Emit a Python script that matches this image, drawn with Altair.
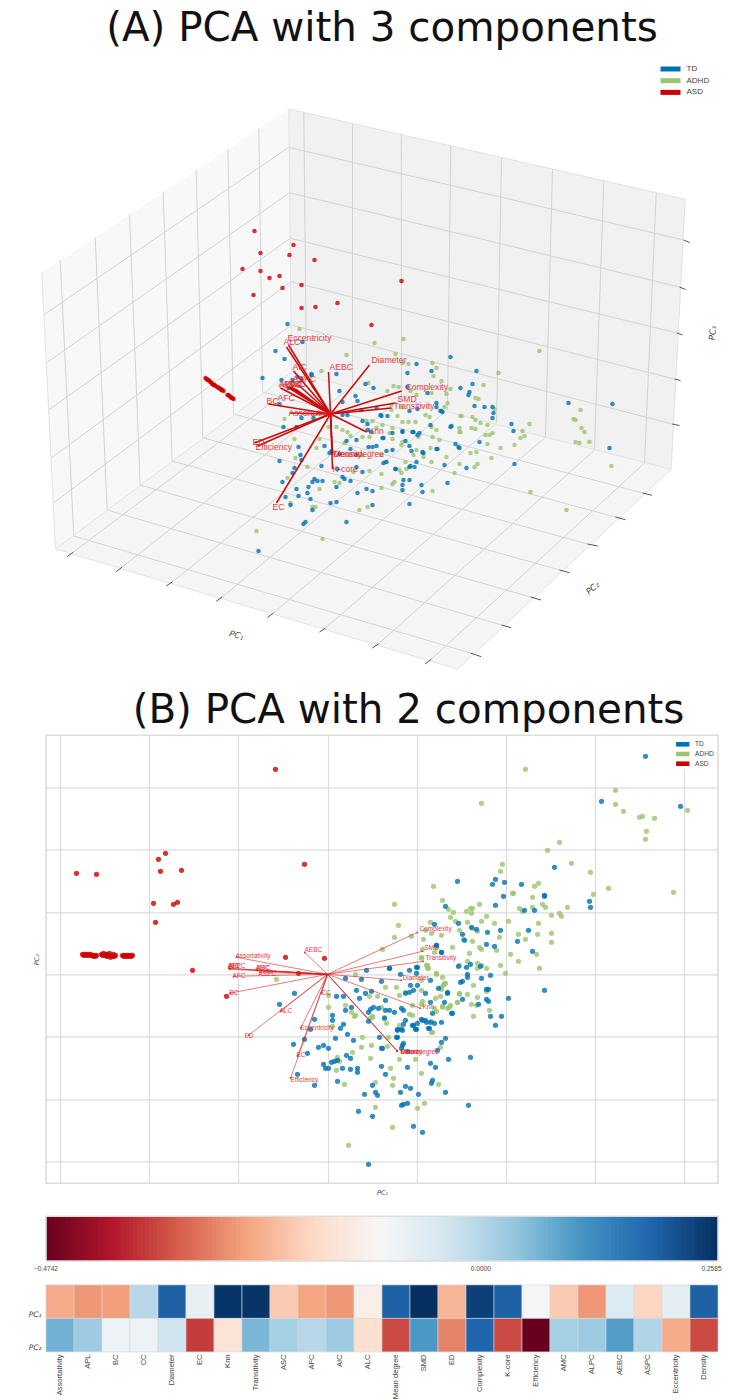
import altair as alt
import numpy as np
import pandas as pd

GROUPS = ["TD", "ADHD", "ASD"]
COLORS = ["#0072B2", "#9bc46e", "#cc0000"]
FEATURES = ["Assortativity", "APL", "BC", "CC", "Diameter", "EC", "Knn", "Transitivity", "ASC", "AFC", "AIC", "ALC",
            "Mean degree", "SMD", "ED", "Complexity", "K-core", "Efficiency", "AMC", "ALPC", "AEBC", "ASPC",
            "Eccentricity", "Density"]
LOAD_PC1 = [-.2471, -.2690, -.2617, -.0053, .1926, -.0785, .2512, .2512, -.2031, -.2544, -.2690, -.1298,
            .1926, .2585, -.2324, .2365, .1926, -.1005, -.2031, -.2690, -.0566, -.1884, -.0712, .1926]
LOAD_PC2 = [.0680, .0240, -.0859, -.0859, -.0346, -.3643, -.1591, .0607, .0167, -.0053, .0240, -.1665,
            -.3496, .1046, -.2910, .1852, -.3496, -.4742, .0167, .0240, .0973, .0021, -.2471, -.3496]
VMIN, VMAX = -0.4742, 0.2585
RDBU = ["#67001f", "#b2182b", "#d6604d", "#f4a582", "#fddbc7", "#f7f7f7", "#d1e5f0", "#92c5de", "#4393c3", "#2166ac", "#053061"]
BAR_LABELS = ["\u22120.4742", "0.0000", "0.2585"]
BAR_VALUES = [VMIN, 0.0, VMAX - 0.0071]

# ---- panel B: scores and loadings
B_TD = [(318,218),(274,173),(353,168),(227,107),(130,93),(168,95),(165,90),(177,92),(194,90),(176,78),(217,79),(217,78),
(262,73),(263,67),(168,69),(118,68),(207,64),(197,64),(107,50),(131,51),(144,47),(149,45),(135,40),(160,42),(173,44),
(201,44),(137,34),(190,33),(159,30),(167,28),(109,29),(114,22),(205,23),(143,10),(131,8),(139,7),(153,8),(90,7),(82,4),(62,6),
(140,0),(140,-3),(154,-4),(163,-1),(217,-16),(181,-24),(135,-7),(133,-8),(159,-15),(161,-15),(159,-25),(161,-27),(135,-25),
(151,-30),(125,-39),(163,-42),(174,-42),(168,-51),(118,-64),(114,-68),(110,-76),(143,-83),(121,-85),(103,-89),(108,-93),
(80,-93),(58,-100),(105,-106),(104,-109),(118,-118),(91,-120),(83,-114),(78,-112),(73,-118),(141,-131),(80,-129),(76,-130),
(74,-131),(86,-152),(95,-158),(54,-92),(120,-19),(111,-14),(114,-48),(107,-49),(102,-54),(95,-46),(99,-48),(90,-49),(86,-51),
(88,-55),(76,-50),(75,-56),(70,-56),(70,-63),(76,-69),(75,-71),(74,-74),(55,-74),(80,-77),
(-33,-19),(-48,-30),(-13,-45),(-23,-65),(-17,-55),(-34,-70),(-20,-79),(-30,-100),(-13,-111),(-9,-73),(-4,-71),(1,-74),(8,-64),
(20,-60),(26,-66),(13,-54),(16,-50),(5,-46),(5,-41),(9,-22),(16,-22),(29,-16),(34,-5),(18,-4),(38,-19),(44,-17),(32,-24),(39,4),
(54,-7),(62,6),(73,0),(89,1),(89,7),(103,-6),(83,-11),(90,-11),(82,-18),(78,-19),(98,-19),(114,22),(109,29),(86,-16),(120,-18),
(117,-28),(103,-28),(58,-26),(46,-33),(43,-35),(41,-38),(51,-34),(58,-36),(57,-44),(62,-36),(67,-38),(74,-34),(76,-36),(124,-39),
(105,-39),(103,-48),(98,-46),(94,-45),(85,-51),(78,-46),(41,-47),(74,-55),(70,-55),(89,-55),(101,-54),(52,-63),(69,-63),(54,-74),
(19,-81),(23,-84),(-4,-90),(-2,-94),(1,-94),(4,-88),(7,-87),(10,-86),(15,-94),(23,-95),(30,-94),(30,-98),(10,-107),(45,-111),
(48,-118),(50,-121),(37,-120),(31,-137),(45,-142),(41,-190),(18,-36),(24,-33)]
B_ADHD = [(198,205),(288,184),(154,171),(288,170),(296,163),(360,164),(315,158),(312,157),(327,156),(319,143),(318,135),(232,132),
(220,124),(244,111),(175,110),(263,102),(173,103),(211,91),(207,88),(106,88),(281,86),(346,82),(266,80),(185,81),(186,81),(205,77),
(115,74),(67,70),(152,70),(145,66),(143,66),(121,65),(215,70),(218,67),(205,67),(240,67),(192,66),(195,63),(139,63),(144,61),(126,62),
(232,61),(234,58),(224,59),(159,58),(123,57),(154,53),(181,53),(128,53),(140,52),(103,52),(211,51),(167,51),(71,49),(145,46),(150,43),
(132,44),(98,44),(191,40),(210,40),(224,41),(114,39),(104,41),(84,38),(67,37),(96,35),(172,37),(136,35),(145,33),(198,35),(224,32),
(109,27),(125,27),(152,27),(95,25),(154,25),(55,25),(169,24),(107,22),(142,21),(183,20),(209,20),(94,16),(140,13),(191,13),(150,11),
(154,9),(100,9),(173,9),(132,9),(101,6),(150,6),(159,6),(212,6),
(-51,-5),(28,0),(1,-21),(1,-33),(18,-31),(24,-38),(27,-42),(5,-52),(35,-63),(44,-71),(34,-73),(25,-78),(10,-83),(12,-87),(9,-96),
(17,-110),(43,-84),(63,-94),(48,-108),(65,-111),(48,-133),(66,-104),(94,-99),(111,-110),(88,-85),(72,-85),(113,-73),(105,-58),(61,-63),
(72,-51),(59,-49),(43,-44),(45,-42),(57,-43),(82,-40),(85,-41),(54,-33),(72,-21),(78,-18),(42,-22),(58,-13),(69,-13),(94,-16),(99,9),
(100,6),(109,0),(116,-11),(114,-13),(94,17),(90,-134),(97,-129),(95,-27),(94,-30),(107,-34),(115,-33),(130,-28),(122,-33),(85,-31),
(104,-58),(94,-6),(117,-9),(132,-19),(178,1),(65,-153),(60,-72),(146,-42),(162,-36),(149,-31),(150,-23),(144,-30),(140,-20),(132,-20),
(130,-28),(159,-17),(146,-11),(115,-3),(109,1),(118,-9),(114,-15),(123,-31),(120,-34),(109,-37),(115,-32),(113,-22),(108,-24),(104,-47),
(21,-171),(50,-22),(45,-43),(28,-41)]
B_ASD = [(-52,205),(-23,110),(-162,121),(-169,115),(-167,103),(-146,104),(-251,101),(-231,100),(-174,71),(-154,70),(-150,72),(-172,52),
(-42,17),(-3,16),(-135,4),(-29,1),(-101,-22),
(-245,20),(-244,19),(-243,20),(-242,19),(-241,20),(-240,19),(-239,20),(-238,19),(-237,20),(-236,19),(-235,19),(-234,18),(-233,19),(-232,18),(-231,19),
(-226,20),(-225,19),(-224,21),(-223,19),(-222,20),(-221,18),(-220,20),(-219,18),(-218,21),(-217,17),(-216,19),(-215,18),(-214,20),(-213,18),(-212,19),
(-205,19),(-204,18),(-203,19),(-202,18),(-201,19),(-200,18),(-199,19),(-198,18),(-197,19),(-196,18),(-195,19)]
B_ARROW_NAMES = ["Assortativity","AEBC","SMD","Complexity","Transitivity","Diameter","Knn","Density","K-core","Mean degree","ALC","ED",
                 "BC","CC","Eccentricity","EC","Efficiency","AFC","APL","AIC","ALPC","AMC","ASC","ASPC"]
B_ARROW_PC1 = [-91,-23,95,90,96,74,93,70,70,70,-47,-79,-98,-6,-27,-30,-37,-94,-98,-99,-98,-71,-71,-68]
B_ARROW_PC2 = [17,22,23,42,13,-6,-34,-77,-77,-77,-37,-61,-19,-19,-54,-82,-104,-2,6,6,5,4,4,2]
B_LABEL_PC1 = [-92,-23,97,92,98,75,95,73,73,73,-48,-83,-98,-6,-27,-31,-37,-95,-100,-99,-99,-72,-71,-69]
B_LABEL_PC2 = [18,24,26,45,16,-4,-33,-78,-78,-78,-37,-62,-19,-19,-54,-81,-106,-2,8,8,8,6,6,0]
B_GRID_PC1 = [-267.6,-178.4,-89.2,0,89.2,178.4,267.6,356.8]
B_GRID_PC2 = [187.2,124.8,62.4,0,-62.4,-124.8,-187.2]

# ---- panel A: scores and loadings as projected from the 3-D view (image-plane units)
A_TD = [(288,324),(303,342),(276,351),(285,359),(337,374),(263,378),(282,380),(312,375),(293,380),(302,379),(366,384),(374,388),
(451,357),(417,364),(408,373),(432,371),(477,371),(408,387),(473,384),(461,388),(428,393),(470,392),(469,395),
(340,391),(356,396),(358,401),(343,402),(437,403),(442,411),(418,409),(410,411),(377,408),(362,410),(348,415),(343,415),(388,416),(381,415),
(451,427),(456,444),(459,447),(467,468),(445,465),(437,449),(423,452),(410,446),(412,451),(420,433),(413,432),(403,431),(368,424),(363,421),
(368,430),(372,432),(384,438),(377,446),(373,447),(369,447),(357,440),(347,441),(393,450),(387,451),(351,449),(330,453),(340,454),(357,455),
(387,462),(396,469),(410,467),(415,467),(410,480),(422,485),(403,485),(403,490),(423,492),(448,483),(410,504),(373,505),(367,489),(373,491),
(358,493),(351,481),(345,479),(343,477),(337,487),(338,469),(363,472),(357,467),(331,503),(337,502),(347,522),(306,522),(304,524),(313,510),
(311,499),(308,493),(297,489),(291,505),(299,496),(286,497),(283,482),(295,468),(293,473),(322,466),(315,479),(313,482),(318,481),(323,481),
(309,487),(280,461),(299,447),(301,455),(302,460),(284,427),(297,427),(325,446),(332,451),(302,418),(314,418),(280,404),(289,388),(312,374),
(298,377),(259,551),
(475,406),(485,407),(493,407),(494,413),(493,418),(512,424),(514,431),(569,403),(613,404),(610,448),(515,464),(480,442),(460,448),(438,449),
(452,426),(431,425),(424,453),(417,462),(411,466),(396,469),(404,480),(384,463),(406,441),(393,433),(383,438),(403,432),(414,432),(418,435),
(382,416),(437,407),(441,411),(443,412)]
A_ADHD = [(300,329),(375,343),(347,355),(322,371),(369,383),(404,339),(540,351),(396,354),(403,363),(409,364),(433,363),(437,368),(434,376),
(499,373),(442,381),(484,385),(394,386),(399,387),(451,389),(388,391),(411,391),(432,393),(447,394),(417,395),(476,398),(479,399),
(448,403),(445,407),(402,407),(392,410),(392,405),(462,416),(430,417),(426,415),(416,422),(403,422),(409,422),(432,427),(437,430),(460,428),
(461,432),(433,437),(419,437),(447,457),(455,473),(432,462),(423,453),(424,457),(400,470),(402,473),(382,474),(395,482),(393,484),(433,491),
(382,455),(386,462),(406,462),(431,448),(403,442),(402,445),(390,433),(393,428),(377,428),(383,425),(373,421),(367,421),(363,437),(370,437),
(348,432),(343,430),(337,427),(329,427),(345,443),(351,436),(320,439),(317,448),(295,439),(285,419),(308,467),(296,458),(335,482),(340,483),
(370,471),(354,472),(320,489),(363,455),(313,507),(316,507),(291,503),(360,510),(368,507),(382,488),(288,478),(257,531),(323,539),
(581,410),(574,419),(576,420),(582,428),(585,432),(590,442),(576,442),(580,443),(612,466),(530,424),(523,431),(525,436),(521,438),(515,445),
(501,448),(488,444),(492,458),(493,433),(490,435),(486,435),(488,425),(495,409),(473,417),(476,420),(481,423),(472,428),(476,429),(461,416),
(460,432),(417,450),(471,453),(477,452),(460,464),(478,464),(475,467),(531,492),(567,510),(398,416),(393,439),(440,440),(414,455),(407,469)]
A_ASD = [(255,231),(294,245),(261,253),(290,255),(315,260),(243,269),(261,271),(270,278),(280,276),(302,285),(283,288),(254,295),(302,308),
(316,307),(338,303),(372,325),(402,281),
(206,378),(207,379),(208,380),(209,380),(210,381),(211,382),(212,383),(213,384),(214,385),(215,385),(216,386),
(218,387),(219,388),(220,388),(221,389),(222,390),(223,390),(224,391),
(228,395),(229,395),(230,396),(231,397),(232,398),(233,398),(234,399)]
A_ORIGIN = (331, 414)
A_ARROW_NAMES = ["Eccentricity","ALC","AIC","ASPC","APL","ASC","AMC","ALPC","CC","AFC","BC","Assortativity","ED","Efficiency","EC","K-core",
                 "Density","Mean degree","Knn","Transitivity","SMD","Complexity","Diameter","AEBC"]
A_TIP_X = [289,287,294,299,290,292,294,288,296,281,269,290,255,258,277,333,333,333,367,392,396,402,370,329]
A_TIP_Y = [345,347,371,385,387,387,388,387,389,388,404,413,443,446,503,469,455,455,432,408,403,391,365,372]
A_LAB_X = [288,284,293,293,279,283,287,280,291,278,267,289,253,256,273,333,334,334,369,394,398,406,372,330]
A_LAB_Y = [338,342,367,379,384,384,384,385,384,398,401,413,442,447,507,469,454,454,431,406,399,387,360,367]

# ---- 3-D box of panel A
L_V_TOP = [(60.7,260),(95.7,237.3),(130,214.3),(163.7,191.7),(196.7,170),(228.3,149),(259.3,128.3)]
L_V_BOT = [(74.3,536),(107.7,510),(140.7,485),(172.7,461),(203.3,437.7),(234,414),(263,392)]
R_V_TOP = [(304.3,111.7),(353,123.3),(401.7,133.3),(451.3,145.7),(502,157.7),(553,169.3),(604.3,181),(656.7,193.3)]
R_V_BOT = [(307,376),(353,386),(402,398),(448,410),(497,423),(546,437),(595,450),(645,463)]
H_LEFT = [(44,315),(46.7,363),(49,410),(51.7,458),(54,503)]
H_MID = [(289.3,147.3),(290.3,192.7),(290.7,238.3),(291.7,281.7),(291.7,325)]
H_RIGHT = [(684,240),(680,287),(677.5,333),(675,379),(672.5,424)]
F1_A = [(74,552),(122.7,567),(172.7,582),(222.7,597),(274,613),(326,628),(379,644),(432,659)]
F2_A = [(471,653),(502,625),(531,597),(560,570),(588,544),(616,517),(643,493)]
EDGE_A = [(56,549),(458.3,669.3),(56,549),(289.3,109),(56,549),(292,372),(292,372),(685.7,199.3)]
EDGE_B = [(458.3,669.3),(671.7,469.3),(42.3,272.7),(685.7,199.3),(292,372),(671.7,469.3),(289.3,109),(671.7,469.3)]
T1_A = [(67.7,556.7),(116.7,571.7),(166.7,586),(216.7,601.3),(268,617.3),(320,632),(372.7,648),(425.7,664)]
T2_B = [(481.7,656.7),(511.7,627.7),(541.7,600),(570,572.7),(598.3,546),(626,519.7),(652.7,495.3)]
T3_B = [(690,242.5),(686,289.5),(683,335),(681,380.5),(680,425.5)]


def segs(a, b):
    return pd.DataFrame({"x": [p[0] for p in a], "y": [p[1] for p in a],
                         "x2": [p[0] for p in b], "y2": [p[1] for p in b]})


def scores(td, adhd, asd):
    rows = [("ADHD", *p) for p in adhd] + [("TD", *p) for p in td] + [("ASD", *p) for p in asd]
    return pd.DataFrame(rows, columns=["group", "x", "y"])


LEFT = 46.5
WIDTH = 672
S = 23.3
FS = "Liberation Sans"

# ================= Panel A
HA = 703.7
sxA = alt.Scale(domain=[LEFT, LEFT + WIDTH], nice=False, zero=False)
syA = alt.Scale(domain=[8 + HA, 8], nice=False, zero=False)
xA = alt.X("x:Q", scale=sxA, axis=None)
yA = alt.Y("y:Q", scale=syA, axis=None)


def pane(xs, top, bot, color):
    d = pd.DataFrame({"x": xs, "y": top, "y2": bot})
    return alt.Chart(d).mark_area(color=color, orient="vertical", interpolate="linear").encode(
        x=xA, y=yA, y2="y2:Q")


def rules(df, color, w):
    return alt.Chart(df).mark_rule(color=color, strokeWidth=w).encode(x=xA, y=yA, x2="x2:Q", y2="y2:Q")


panes = [
    pane([42.3, 56, 289.3, 292], [272.7, 263.6, 109, 372], [272.7, 549, 374, 372], "#f8f8f8"),
    pane([289.3, 292, 671.7, 685.7], [109, 109.6, 196.1, 199.3], [109, 372, 469.3, 199.3], "#f1f1f1"),
    pane([56, 292, 458.3, 671.7], [549, 372, 414.4, 469.3], [549, 619.4, 669.3, 469.3], "#f5f5f5"),
]
grid_df = pd.concat([segs(L_V_TOP, L_V_BOT), segs(R_V_TOP, R_V_BOT), segs(H_LEFT, H_MID), segs(H_MID, H_RIGHT),
                     segs(F1_A, R_V_BOT), segs(L_V_BOT, F2_A)])
ticks_df = pd.concat([segs(F1_A, T1_A), segs(F2_A, T2_B), segs(H_RIGHT, T3_B)])

a_pts = alt.Chart(scores(A_TD, A_ADHD, A_ASD)).mark_circle(size=21, opacity=0.8).encode(
    x=xA, y=yA,
    color=alt.Color("group:N", scale=alt.Scale(domain=GROUPS, range=COLORS), legend=alt.Legend(
        title=None, orient="none", legendX=615.5, legendY=52, symbolType="M-2,-0.5H2V0.5H-2Z", symbolSize=100,
        symbolOpacity=1, labelFont=FS, labelFontSize=8, labelColor="#444444", rowPadding=1.7, labelOffset=10,
        fillColor="#ffffff", padding=3)))
a_arr = pd.DataFrame({"n": A_ARROW_NAMES, "x": A_ORIGIN[0], "y": A_ORIGIN[1], "x2": A_TIP_X, "y2": A_TIP_Y})
a_lab = pd.DataFrame({"n": A_ARROW_NAMES, "x": A_LAB_X, "y": A_LAB_Y})
a_lines = rules(a_arr, "#cc0a0a", 1.5)
a_text = alt.Chart(a_lab).mark_text(font=FS, fontSize=8.6, color="#e3282c", align="left", baseline="middle",
                                    opacity=0.9).encode(x=xA, y=yA, text="n:N")


def txt(x, y, s, **kw):
    d = pd.DataFrame({"x": [x], "y": [y], "t": [s]})
    return alt.Chart(d).mark_text(**kw).encode(x=xA, y=yA, text="t:N")


titles = [
    txt(382.5, 41, "(A) PCA with 3 components", font="DejaVu Sans", fontSize=40.4, color="#111111", align="center",
        baseline="alphabetic"),
    txt(409, 723, "(B) PCA with 2 components", font="DejaVu Sans", fontSize=40.4, color="#111111", align="center",
        baseline="alphabetic"),
    txt(237, 635, "PC\u2081", font="DejaVu Sans", fontStyle="italic", fontSize=8.5, color="#444444", angle=15,
        align="center", baseline="middle"),
    txt(593, 588, "PC\u2082", font="DejaVu Sans", fontStyle="italic", fontSize=8.5, color="#444444", angle=320,
        align="center", baseline="middle"),
    txt(713, 333, "PC\u2083", font="DejaVu Sans", fontStyle="italic", fontSize=8.5, color="#444444", angle=275,
        align="center", baseline="middle"),
]
panel_a = alt.layer(*panes, rules(grid_df, "#d3d3d3", 1), rules(segs(EDGE_A, EDGE_B), "#e2e2e2", 1),
                    rules(ticks_df, "#555555", 1), a_pts, a_lines, a_text, *titles).properties(width=WIDTH, height=HA)

# ================= Panel B
HB = 448
sxB = alt.Scale(domain=[-281.5, 390.5], nice=False, zero=False)
syB = alt.Scale(domain=[-209, 239], nice=False, zero=False)
xB = alt.X("x:Q", scale=sxB,
           axis=alt.Axis(values=B_GRID_PC1, labels=False, ticks=False, domain=False, grid=True, gridColor="#dcdcdc",
                         gridWidth=1.2, title="PC\u2081", titleFont="DejaVu Sans", titleFontStyle="italic",
                         titleFontWeight="normal", titleFontSize=6.5, titleColor="#444444", titlePadding=6))
yB = alt.Y("y:Q", scale=syB,
           axis=alt.Axis(values=B_GRID_PC2, labels=False, ticks=False, domain=False, grid=True, gridColor="#dcdcdc",
                         gridWidth=1.2, title="PC\u2082", titleFont="DejaVu Sans", titleFontStyle="italic",
                         titleFontWeight="normal", titleFontSize=6.5, titleColor="#444444", titlePadding=7))
b_pts = alt.Chart(scores(B_TD, B_ADHD, B_ASD)).mark_circle(size=27, opacity=0.8).encode(
    x=xB, y=yB,
    color=alt.Color("group:N", scale=alt.Scale(domain=GROUPS, range=COLORS), legend=alt.Legend(
        title=None, orient="none", legendX=629.75, legendY=2, symbolType="M-1.565,-0.54H1.565V0.54H-1.565Z",
        symbolSize=72, symbolOpacity=1, labelFont=FS, labelFontSize=6.6, labelColor="#444444", rowPadding=0.7,
        labelOffset=7.25, fillColor="#ffffff", padding=2)))
b_arr = pd.DataFrame({"x": 0, "y": 0, "x2": B_ARROW_PC1, "y2": B_ARROW_PC2})
b_tip = pd.DataFrame({"x": B_ARROW_PC1, "y": B_ARROW_PC2})
b_tip["ang"] = (90 - np.degrees(np.arctan2(b_tip.y, b_tip.x))) % 360
b_lab = pd.DataFrame({"n": B_ARROW_NAMES, "x": B_LABEL_PC1, "y": B_LABEL_PC2})
b_lines = alt.Chart(b_arr).mark_rule(color="#d62020", strokeWidth=0.7, opacity=0.85).encode(
    x=xB, y=yB, x2="x2:Q", y2="y2:Q")
b_heads = alt.Chart(b_tip).mark_point(shape="triangle-up", filled=True, size=5, color="#d62020", opacity=1).encode(
    x=xB, y=yB, angle=alt.Angle("ang:Q", scale=None))
b_text = alt.Chart(b_lab).mark_text(font=FS, fontSize=6.5, color="#e3282c", align="left", baseline="middle",
                                    opacity=0.9).encode(x=xB, y=yB, text="n:N")
panel_b = alt.layer(b_pts, b_lines, b_heads, b_text).properties(
    width=WIDTH, height=HB, view=alt.ViewBackground(stroke="#dddddd", strokeWidth=1.6))

# ================= Colour bar
HC = 54.4
TOPC = 9.7
stops = [VMIN + (VMAX - VMIN) * i / 10 for i in range(11)]
colour_scale = alt.Scale(domain=stops, range=RDBU, interpolate="rgb")
grad = np.linspace(VMIN, VMAX, 171)
cb_df = pd.DataFrame({"a": grad[:-1], "b": np.minimum(grad[1:] + 0.002, VMAX), "v": (grad[:-1] + grad[1:]) / 2})
xC = alt.X("a:Q", scale=alt.Scale(domain=[VMIN, VMAX], nice=False, zero=False), axis=None)
cb_rect = alt.Chart(cb_df).mark_rect().encode(
    x=xC, x2="b:Q", y=alt.value(TOPC), y2=alt.value(HC),
    color=alt.Color("v:Q", scale=colour_scale, legend=None))
cb_frame = alt.Chart(pd.DataFrame({"a": [VMIN], "b": [VMAX]})).mark_rect(
    filled=False, stroke="#dddddd", strokeWidth=1.6).encode(x=xC, x2="b:Q", y=alt.value(TOPC), y2=alt.value(HC))
cb_text = alt.Chart(pd.DataFrame({"a": BAR_VALUES, "t": BAR_LABELS})).mark_text(
    font=FS, fontSize=6.6, color="#444444", align="center", baseline="middle").encode(
    x=xC, y=alt.value(HC + 7.5), text="t:N")
panel_c = alt.layer(cb_rect, cb_frame, cb_text).properties(width=WIDTH, height=HC)

# ================= Heatmap of loadings
heat_df = pd.DataFrame({"feature": FEATURES * 2, "pc": ["PC\u2081"] * 24 + ["PC\u2082"] * 24,
                        "v": LOAD_PC1 + LOAD_PC2})
panel_d = alt.Chart(heat_df).mark_rect(stroke="#d6d6d6", strokeWidth=0.6).encode(
    x=alt.X("feature:N", sort=FEATURES, scale=alt.Scale(paddingInner=0, paddingOuter=0),
            axis=alt.Axis(title=None, ticks=False, domain=False, labelAngle=-90, labelFont=FS, labelFontSize=7.6,
                          labelColor="#444444", labelPadding=2, labelOverlap=False)),
    y=alt.Y("pc:N", sort=["PC\u2081", "PC\u2082"], scale=alt.Scale(paddingInner=0, paddingOuter=0),
            axis=alt.Axis(title=None, ticks=False, domain=False, labelFont="DejaVu Sans", labelFontStyle="italic",
                          labelFontSize=7.5, labelColor="#444444", labelPadding=5, labelOffset=13)),
    color=alt.Color("v:Q", scale=colour_scale, legend=None),
).properties(width=WIDTH, height=67)

chart = alt.vconcat(panel_a, panel_b, panel_c, panel_d, spacing=S, bounds="flush").resolve_scale(
    color="independent", x="independent", y="independent"
).configure_view(stroke=None).properties(padding={"left": 20, "top": 0, "right": 0, "bottom": 0})

chart.save("out.html", embed_options={"renderer": "svg", "actions": False})
